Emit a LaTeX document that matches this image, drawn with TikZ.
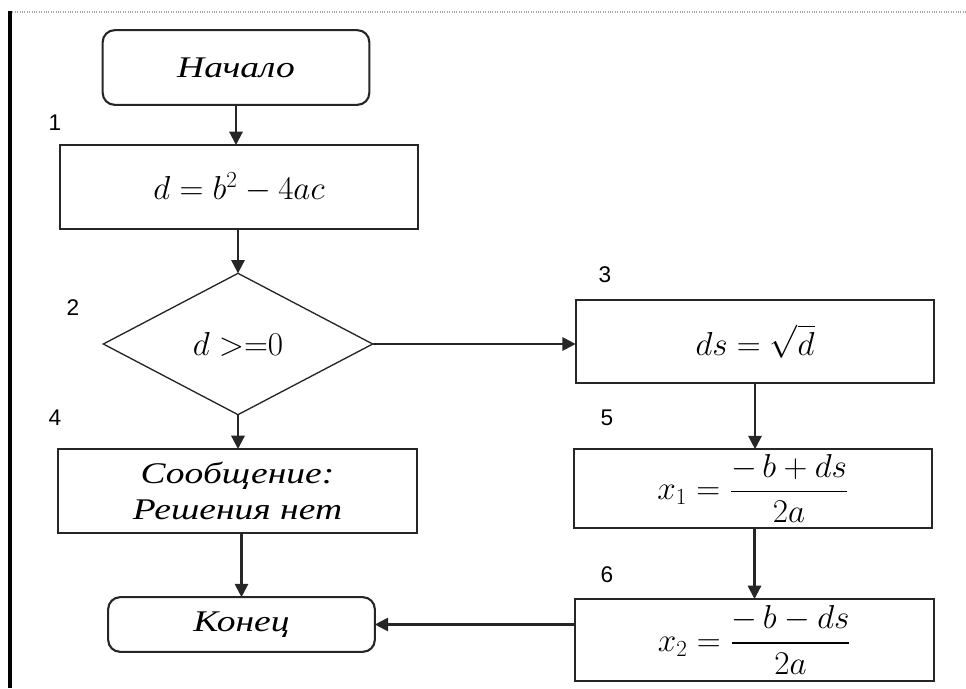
\documentclass[tikz,border=0pt]{standalone}
\usepackage{amsmath}
\usepackage{fontspec}
\setmainfont{Liberation Serif}
\newfontfamily\lblfont{Liberation Serif}[FakeStretch=1.25]
\newfontfamily\numfont{Liberation Sans}
\usetikzlibrary{arrows.meta,shapes.geometric}
\begin{document}
\begin{tikzpicture}[x=0.75pt,y=-0.75pt,
  every node/.style={inner sep=0pt, outer sep=0pt},
  blk/.style={draw=black!85, line width=1.6pt, fill=white, align=center,
              font=\lblfont\fontsize{22.5}{27}\selectfont\itshape},
  term/.style={blk, rounded corners=9pt, minimum width=200pt},
  proc/.style={blk, minimum width=269pt, minimum height=62pt},
  dec/.style={blk, diamond, aspect=1.9, minimum width=202pt, minimum height=106pt, line width=1pt},
  num/.style={font=\numfont\fontsize{17}{20}\selectfont},
  mth/.style={font=\fontsize{25}{30}\selectfont},
  frc/.style={font=\fontsize{23}{28}\selectfont},
  arr/.style={draw=black!85, line width=1.6pt, -{Triangle[length=10pt,width=10pt]}},
]
\useasboundingbox (0,0) rectangle (966,688);
% frame
\draw[gray!70, line width=0.8pt, densely dotted] (10,12) -- (966,12);
\draw[black, line width=3pt] (10,11) -- (10,688);

% nodes
\node[term, minimum height=56pt] (start) at (236,67.5) {Начало};
\node[proc, mth, minimum height=63pt] (b1) at (239,187) {$d = b^2 - 4ac$};
\node[dec, mth] (d2) at (238,344) {$d\;{>}{=}0$};
\node[proc, mth] (b3) at (755,341.5) {$ds = \sqrt{d}$};
\node[proc, minimum height=63pt] (b4) at (237.5,491) {Сообщение:\\Решения нет};
\node[proc, frc, minimum height=59pt] (b5) at (753,488.5) {$x_1 = \dfrac{-\,b + ds}{2a}$};
\node[proc, frc, minimum height=61.5pt] (b6) at (754.5,640) {$x_2 = \dfrac{-\,b - ds}{2a}$};
\node[term, minimum height=41pt] (stop) at (241.5,624.5) {Конец};

% numbers
\node[num] (n1) at (55,123) {1};
\node[num] (n2) at (73,308) {2};
\node[num] (n3) at (605,275) {3};
\node[num] (n4) at (55,418) {4};
\node[num] (n5) at (607,418) {5};
\node[num] (n6) at (607,575) {6};

% connectors
\draw[arr] (start.south) -- (start.south |- b1.north);
\draw[arr] (b1.south -| d2.north) -- (d2.north);
\draw[arr] (d2.east) -- (d2.east -| b3.west);
\draw[arr] (d2.south) -- (d2.south |- b4.north);
\draw[arr] (b4.south -| stop.north) -- (stop.north);
\draw[arr] (b3.south) -- (b3.south |- b5.north);
\draw[arr] (b5.south -| b6.north) -- (b6.north);
\draw[arr] (b6.west |- stop.east) -- (stop.east);
\end{tikzpicture}
\end{document}
